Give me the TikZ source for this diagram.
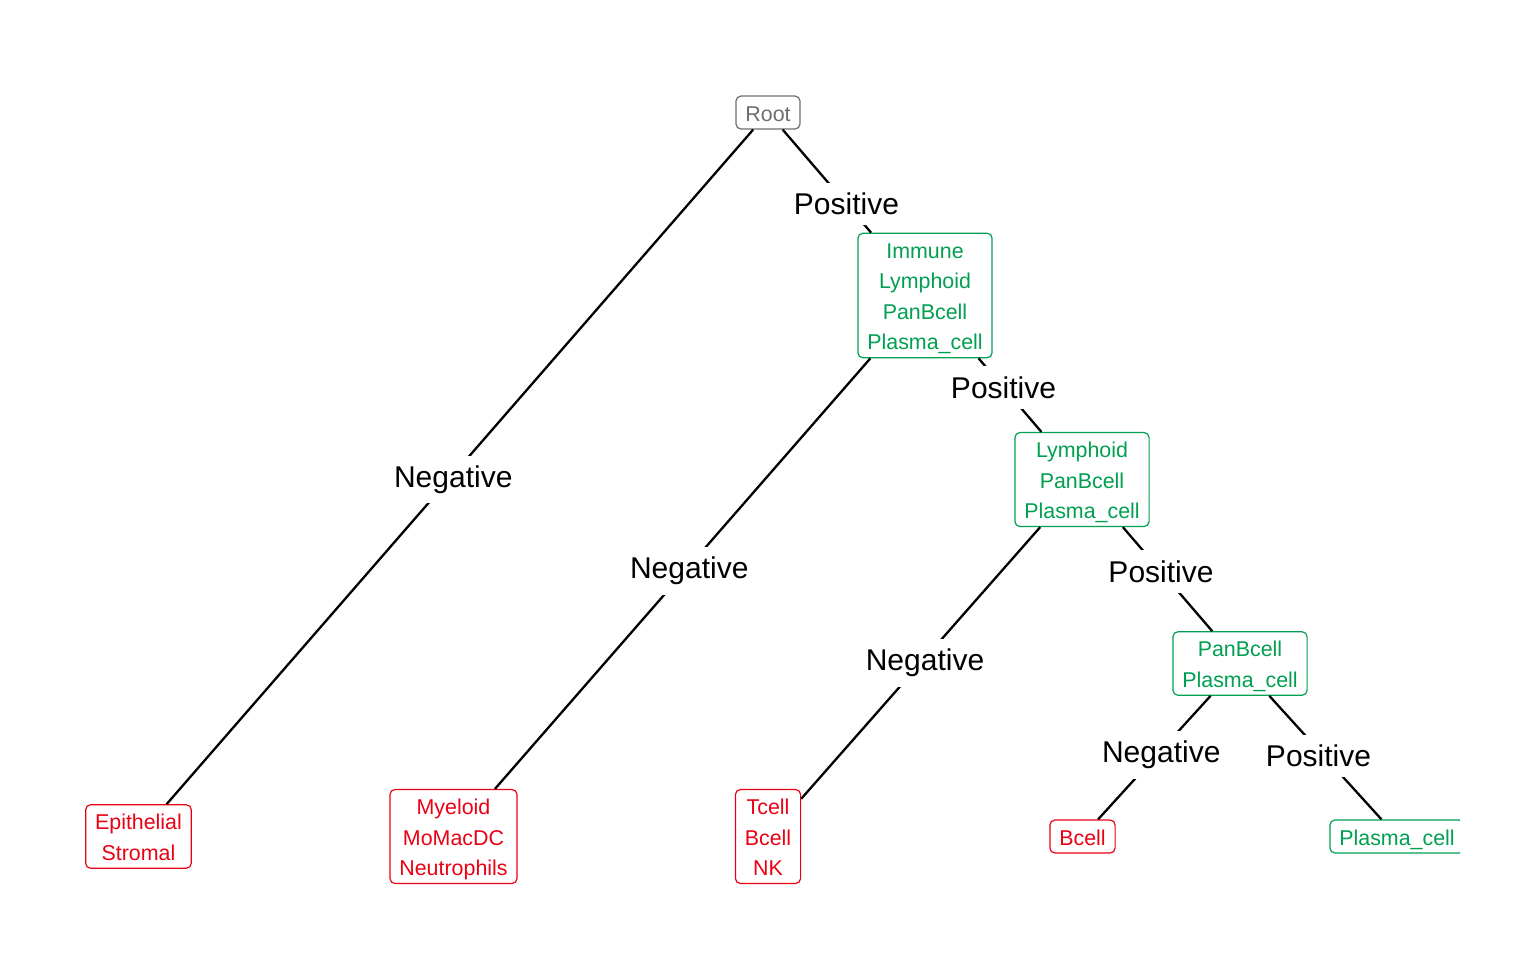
\documentclass[tikz,border=0pt]{standalone}
\usepackage{fontspec}
\usepackage{array}
\usetikzlibrary{calc}
\setmainfont{Liberation Sans}
\definecolor{posgreen}{RGB}{0,160,80}
\definecolor{negred}{RGB}{235,0,20}
\definecolor{rootgray}{RGB}{110,110,110}
\renewcommand{\arraystretch}{0}
\newcommand{\boxstrut}{\rule[-3.375pt]{0pt}{15.25pt}}
\newcommand{\cellrows}[1]{\begin{tabular}{@{}>{\boxstrut}c@{}}#1\end{tabular}}
\begin{document}
\begin{tikzpicture}[x=0.5pt,y=-0.5pt,
  cellbox/.style={draw,fill=white,rounded corners=2.5pt,line width=0.6pt,
    inner xsep=4.7pt,inner ysep=0.625pt,font=\fontsize{10.7}{15.25}\selectfont},
  posbox/.style={cellbox,draw=posgreen,text=posgreen},
  negbox/.style={cellbox,draw=negred,text=negred},
  edge/.style={line width=1.15pt},
  lab/.style={fill=white,inner sep=5pt,font=\fontsize{15}{18}\selectfont},
  neglab/.style={lab,yshift=-2.5pt}]
\useasboundingbox (0,0) rectangle (1536,960);
\clip (0,0) rectangle (1460,960);
% nodes
\node[cellbox,draw=rootgray,text=rootgray] (root) at (768,112.5) {\cellrows{Root}};
\node[posbox] (immune) at (925,295.5) {\cellrows{Immune\\Lymphoid\\PanBcell\\Plasma\_cell}};
\node[posbox] (lymphoid) at (1082,479.5) {\cellrows{Lymphoid\\PanBcell\\Plasma\_cell}};
\node[posbox] (panb) at (1240,663.5) {\cellrows{PanBcell\\Plasma\_cell}};
\node[negbox] (epi) at (138.5,836.5) {\cellrows{Epithelial\\Stromal}};
\node[negbox] (myel) at (453.5,836.5) {\cellrows{Myeloid\\MoMacDC\\Neutrophils}};
\node[negbox] (tnk) at (768,836.5) {\cellrows{Tcell\\Bcell\\NK}};
\node[negbox] (bcell) at (1082.5,836.5) {\cellrows{Bcell}};
\node[posbox] (plasma) at (1397,836.5) {\cellrows{Plasma\_cell}};
% edges
\draw[edge] (root) -- (epi);
\draw[edge] (root) -- (immune);
\draw[edge] (immune) -- (myel);
\draw[edge] (immune) -- (lymphoid);
\draw[edge] (lymphoid) -- (tnk);
\draw[edge] (lymphoid) -- (panb);
\draw[edge] (panb) -- (bcell);
\draw[edge] (panb) -- (plasma);
% edge labels, halfway between the centres
\node[neglab] (negA) at ($(root)!0.5!(epi)$) {Negative};
\node[lab] (posA) at ($(root)!0.5!(immune)$) {Positive};
\node[neglab] (negB) at ($(immune)!0.5!(myel)$) {Negative};
\node[lab] (posB) at ($(immune)!0.5!(lymphoid)$) {Positive};
\node[neglab] (negC) at ($(lymphoid)!0.5!(tnk)$) {Negative};
\node[lab] (posC) at ($(lymphoid)!0.5!(panb)$) {Positive};
\node[neglab] (negD) at ($(panb)!0.5!(bcell)$) {Negative};
\node[lab,yshift=-3pt] (posD) at ($(panb)!0.5!(plasma)$) {Positive};
\end{tikzpicture}
\end{document}
